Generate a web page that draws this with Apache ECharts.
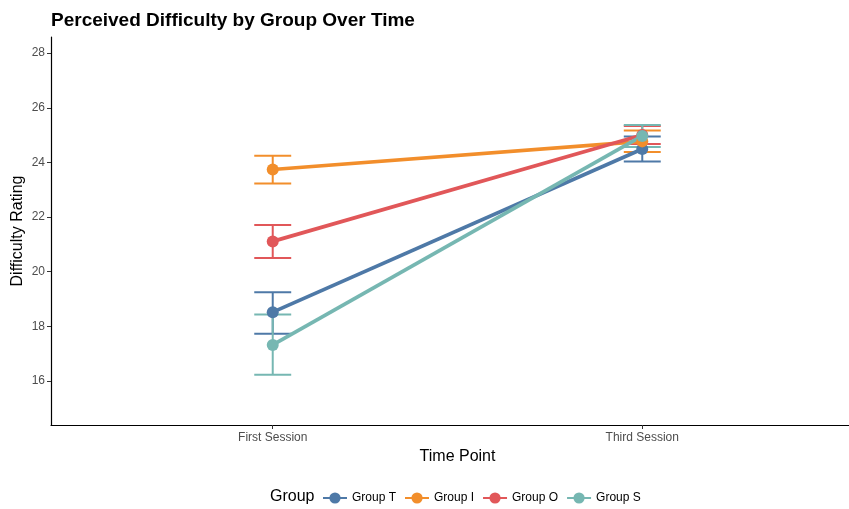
<!DOCTYPE html>
<html>
<head>
<meta charset="utf-8">
<script src="https://cdn.jsdelivr.net/npm/echarts@6/dist/echarts.min.js"></script>
<style>
  html, body { margin: 0; padding: 0; background: #fff; }
  #chart { width: 849px; height: 509px; }
</style>
</head>
<body>
<div id="chart"></div>
<script>
// Time points on the x axis (positions 1 and 2)
const timePoints = ['First Session', 'Third Session'];
const groups = ['Group T', 'Group I', 'Group O', 'Group S'];
const colors = ['#4e79a7', '#f28e2b', '#e15759', '#76b7b2'];

// Mean difficulty rating per group at each time point
const meanT = [18.52, 24.49];
const meanI = [23.74, 24.77];
const meanO = [21.11, 25.00];
const meanS = [17.32, 24.97];

// Error bar bounds (lower, upper) per group at each time point
const lowT = [17.73, 24.03], highT = [19.25, 24.95];
const lowI = [23.23, 24.38], highI = [24.24, 25.17];
const lowO = [20.50, 24.67], highO = [21.71, 25.33];
const lowS = [16.23, 24.56], highS = [18.43, 25.37];

// Y axis tick labels
const yTicks = [16, 18, 20, 22, 24, 26, 28];

const means = [meanT, meanI, meanO, meanS];
const lows = [lowT, lowI, lowO, lowS];
const highs = [highT, highI, highO, highS];

const chart = echarts.init(document.getElementById('chart'), null, { renderer: 'canvas' });

const FONT = 'Liberation Sans, Arial, Helvetica, sans-serif';
const CAP_HALF = 0.05; // half-width of the error bar caps, in x units

const series = [];
groups.forEach((g, gi) => {
  // error bars: vertical whisker plus two caps
  series.push({
    type: 'custom',
    name: g + ' error',
    z: 3,
    data: timePoints.map((t, i) => [i + 1, lows[gi][i], highs[gi][i]]),
    renderItem: function (params, api) {
      const x = api.value(0);
      const lo = api.coord([x, api.value(1)]);
      const hi = api.coord([x, api.value(2)]);
      const l = api.coord([x - CAP_HALF, api.value(1)]);
      const r = api.coord([x + CAP_HALF, api.value(1)]);
      const style = { stroke: colors[gi], lineWidth: 2, fill: null };
      return {
        type: 'group',
        children: [
          { type: 'line', shape: { x1: lo[0], y1: lo[1], x2: hi[0], y2: hi[1] }, style },
          { type: 'line', shape: { x1: l[0], y1: lo[1], x2: r[0], y2: lo[1] }, style },
          { type: 'line', shape: { x1: l[0], y1: hi[1], x2: r[0], y2: hi[1] }, style }
        ]
      };
    },
    silent: true
  });
  // mean line with points
  series.push({
    type: 'line',
    name: g,
    z: 4,
    data: timePoints.map((t, i) => [i + 1, means[gi][i]]),
    symbol: 'circle',
    symbolSize: 12,
    showSymbol: true,
    lineStyle: { color: colors[gi], width: 3.7 },
    itemStyle: { color: colors[gi] },
    emphasis: { disabled: true },
    animation: false
  });
});

chart.setOption({
  animation: false,
  backgroundColor: '#ffffff',
  title: {
    text: 'Perceived Difficulty by Group Over Time',
    left: 46,
    top: 6,
    textStyle: { fontFamily: FONT, fontSize: 19, fontWeight: 'bold', color: '#000' }
  },
  grid: { left: 51, right: -15, top: 37, bottom: 84, containLabel: false, outerBoundsMode: 'none' },
  xAxis: {
    type: 'value',
    min: 0.4,
    max: 2.6,
    name: 'Time Point',
    nameLocation: 'middle',
    nameGap: 22,
    nameTextStyle: { fontFamily: FONT, fontSize: 16, color: '#000', verticalAlign: 'top' },
    splitLine: { show: false },
    axisLine: { show: true, lineStyle: { color: '#000', width: 1.2 } },
    axisTick: { show: true, length: 4, lineStyle: { color: '#333' }, customValues: [1, 2] },
    axisLabel: {
      fontFamily: FONT, fontSize: 12, color: '#4d4d4d', margin: 7,
      customValues: [1, 2],
      formatter: v => timePoints[Math.round(v) - 1] || ''
    }
  },
  yAxis: {
    type: 'value',
    min: 14.39,
    max: 28.59,
    name: 'Difficulty Rating',
    nameLocation: 'middle',
    nameGap: 25,
    nameMoveOverlap: false,
    nameTextStyle: { fontFamily: FONT, fontSize: 16, color: '#000' },
    splitLine: { show: false },
    axisLine: { show: true, lineStyle: { color: '#000', width: 1.2 } },
    axisTick: { show: true, length: 4, lineStyle: { color: '#333' }, customValues: yTicks },
    axisLabel: {
      fontFamily: FONT, fontSize: 12, color: '#4d4d4d', margin: 6,
      customValues: yTicks
    }
  },
  legend: {
    data: groups,
    left: 317,
    top: 487,
    itemWidth: 24,
    itemHeight: 14,
    itemGap: 8,
    textStyle: { fontFamily: FONT, fontSize: 12, color: '#000' }
  },
  graphic: [{
    type: 'text',
    left: 270,
    top: 489,
    style: { text: 'Group', font: '16px ' + FONT, fill: '#000' }
  }],
  series: series
});
</script>
</body>
</html>
